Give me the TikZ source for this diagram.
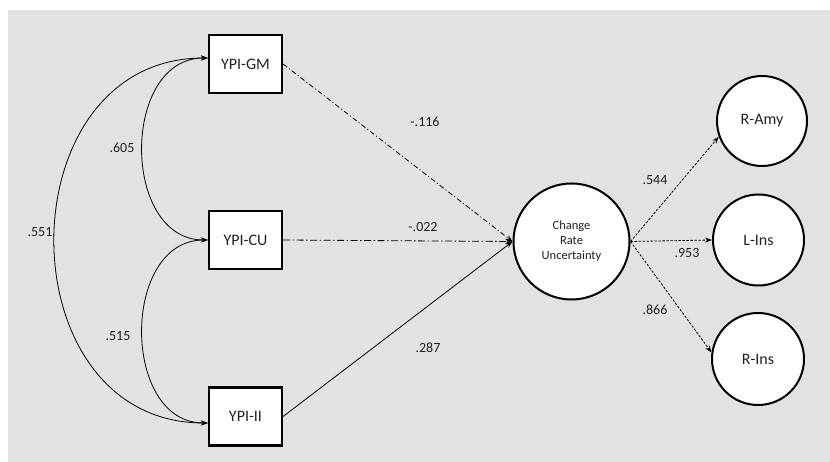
\documentclass[tikz,border=0pt]{standalone}
\usepackage{fontspec}
\setmainfont{Carlito}
\usetikzlibrary{arrows.meta,calc}
\definecolor{bggray}{HTML}{E1E2E4}
\definecolor{txt}{HTML}{222222}
\tikzset{
  obsbox/.style={draw=black,line width=2.2pt,fill=white,minimum width=73pt,minimum height=58pt,inner sep=0pt,font=\fontsize{16}{18}\selectfont,text=txt},
  latent/.style={circle,draw=black,line width=2pt,fill=white,inner sep=0pt,font=\fontsize{16}{18}\selectfont,text=txt},
  lbl/.style={font=\fontsize{14}{16}\selectfont,text=txt,inner sep=1pt},
  conn/.style={line width=0.8pt,-{Stealth[length=7pt,width=5pt]}},
  cov/.style={line width=0.8pt,{Stealth[length=7pt,width=5pt]}-{Stealth[length=7pt,width=5pt]}},
  dashdotA/.style={dash pattern=on 5pt off 2.5pt on 1pt off 2.5pt},
  dashdotB/.style={dash pattern=on 7pt off 2.5pt on 1.5pt off 2.5pt},
  fine/.style={dash pattern=on 2.5pt off 1.5pt},
}
\begin{document}
\begin{tikzpicture}[x=1pt,y=1pt]
\useasboundingbox (0,0) rectangle (830,462);
\fill[bggray] (8,0) rectangle (830,452);

\node[obsbox] (GM) at (245.5,398) {YPI-GM};
\node[obsbox] (CU) at (245.5,222) {YPI-CU};
\node[obsbox] (II) at (245.5,45.5) {YPI-II};

\node[latent,minimum size=116pt,align=center,font=\fontsize{12.5}{15}\selectfont] (CRU) at (571.5,220.5) {Change\\Rate\\Uncertainty};

\node[latent,minimum size=90pt] (RAmy) at (762,341) {R-Amy};
\node[latent,minimum size=91pt] (LIns) at (758.5,222) {L-Ins};
\node[latent,minimum size=92pt] (RIns) at (758,103) {R-Ins};

\coordinate (GMa) at ($(GM.west)+(0,6)$);
\coordinate (IIa) at ($(II.west)+(0,-6.5)$);

% covariances
\draw[cov] (GMa) .. controls +(-87,0) and +(-87,0) .. (CU.west);
\draw[cov] (CU.west) .. controls +(-87,0) and +(-87,0) .. (IIa);
\draw[cov] (GMa) .. controls +(-204,0) and +(-204,0) .. (IIa);

% regressions
\draw[conn,dashdotA] (GM.east) -- (CRU.west);
\draw[conn,dashdotB] (CU.east) -- (CRU.west);
\draw[conn] (II.east) -- (CRU.west);

% loadings
\draw[conn,fine] (CRU.east) -- (RAmy.200);
\draw[conn,fine] (CRU.east) -- (LIns.west);
\draw[conn,fine] (CRU.east) -- (RIns.172);

% labels
\node[lbl] (l605) at (122,314) {.605};
\node[lbl] (l551) at (40,230) {.551};
\node[lbl] (l515) at (118,126) {.515};
\node[lbl] (l116) at (425,340) {-.116};
\node[lbl] (l022) at (423,235) {-.022};
\node[lbl] (l287) at (428,114) {.287};
\node[lbl] (l544) at (655,282) {.544};
\node[lbl] (l953) at (687,209) {.953};
\node[lbl] (l866) at (655,152) {.866};
\end{tikzpicture}
\end{document}
